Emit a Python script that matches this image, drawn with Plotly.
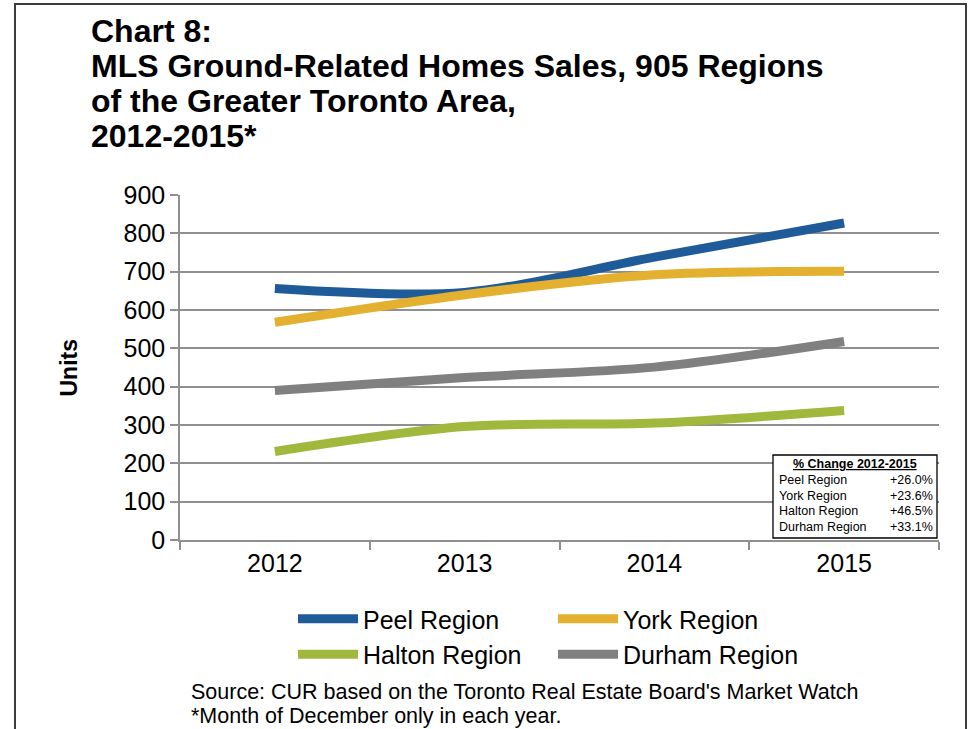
import plotly.graph_objects as go

years = ["2012", "2013", "2014", "2015"]
peel = [656, 646, 738, 827]
york = [568, 640, 692, 701]
halton = [231, 296, 305, 338]
durham = [390, 424, 451, 518]

series_names = ["Peel Region", "York Region", "Halton Region", "Durham Region"]
series_values = [peel, york, halton, durham]
series_colors = ["#1F5B98", "#E3B02F", "#A0B93C", "#808080"]

title_lines = ["Chart 8:", "MLS Ground-Related Homes Sales, 905 Regions",
               "of the Greater Toronto Area,", "2012-2015*"]
inset_title = "% Change 2012-2015"
inset_labels = ["Peel Region", "York Region", "Halton Region", "Durham Region"]
inset_values = ["+26.0%", "+23.6%", "+46.5%", "+33.1%"]
footer_lines = ["Source: CUR based on the Toronto Real Estate Board's Market Watch",
                "*Month of December only in each year."]
y_ticks = [0, 100, 200, 300, 400, 500, 600, 700, 800, 900]

W, H = 972, 729
PLOT_X0, PLOT_X1, PLOT_Y0, PLOT_Y1 = 180, 939, 195, 540
L = PLOT_X0
T = PLOT_Y0
R = W - PLOT_X1
B = H - PLOT_Y1
PW, PH = W - L - R, H - T - B


def px(x):
    return (x - PLOT_X0) / PW


def py(y):
    return (PLOT_Y1 - y) / PH


FONT = "Liberation Sans, Arial, sans-serif"

fig = go.Figure()
for name, vals, col in zip(series_names, series_values, series_colors):
    fig.add_trace(go.Scatter(
        x=years, y=vals, name=name, mode="lines",
        line=dict(color=col, width=9, shape="spline", smoothing=0.9),
        hoverinfo="x+y+name",
    ))

annotations = []
for i, t in enumerate(title_lines):
    annotations.append(dict(
        text="<b>%s</b>" % t, xref="paper", yref="paper",
        x=px(89), y=py(30.5 + 35 * i), xanchor="left", yanchor="middle",
        showarrow=False, font=dict(family=FONT, size=32, color="black")))
annotations.append(dict(
    text="<b>Units</b>", xref="paper", yref="paper", x=px(68), y=0.5,
    xanchor="center", yanchor="middle", textangle=-90, showarrow=False,
    font=dict(family=FONT, size=23, color="black")))
for i, t in enumerate(footer_lines):
    annotations.append(dict(
        text=t, xref="paper", yref="paper", x=px(189), y=py(692 + 24 * i),
        xanchor="left", yanchor="middle", showarrow=False,
        font=dict(family=FONT, size=21.5, color="black")))
annotations.append(dict(
    text="<b><u>%s</u></b>" % inset_title, xref="paper", yref="paper",
    x=px(855), y=py(464), xanchor="center", yanchor="middle", showarrow=False,
    font=dict(family=FONT, size=12.5, color="black")))
for i, (lab, val) in enumerate(zip(inset_labels, inset_values)):
    yy = py(480 + 15.6 * i)
    annotations.append(dict(
        text=lab, xref="paper", yref="paper", x=px(777), y=yy,
        xanchor="left", yanchor="middle", showarrow=False,
        font=dict(family=FONT, size=12.5, color="black")))
    annotations.append(dict(
        text=val, xref="paper", yref="paper", x=px(935), y=yy,
        xanchor="right", yanchor="middle", showarrow=False,
        font=dict(family=FONT, size=12.5, color="black")))

shapes = [
    dict(type="rect", xref="paper", yref="paper", x0=px(773), x1=px(937),
         y0=py(538), y1=py(455), line=dict(color="black", width=1.3),
         fillcolor="white", layer="above"),
    dict(type="rect", xref="paper", yref="paper", x0=px(15), x1=px(966),
         y0=py(760), y1=py(4), line=dict(color="#3c3c3c", width=2),
         fillcolor="rgba(0,0,0,0)", layer="below"),
]

fig.update_layout(
    width=W, height=H,
    margin=dict(l=L, r=R, t=T, b=B, pad=0),
    paper_bgcolor="white", plot_bgcolor="white",
    font=dict(family=FONT, color="black"),
    showlegend=True,
    legend=dict(orientation="h", x=px(293), y=py(596), xanchor="left", yanchor="top",
                font=dict(family=FONT, size=25, color="black"),
                itemwidth=60, entrywidth=185, tracegroupgap=0,
                bgcolor="rgba(0,0,0,0)"),
    annotations=annotations,
    shapes=shapes,
    xaxis=dict(type="category", range=[-0.5, 3.5], tickson="boundaries",
               ticks="outside", ticklen=8, tickcolor="#8f8f8f", tickwidth=1.5,
               showline=True, linecolor="#8f8f8f", linewidth=1.5, showgrid=False,
               tickfont=dict(family=FONT, size=25, color="black"), fixedrange=True),
    yaxis=dict(range=[0, 900], tickvals=y_ticks, ticks="outside", ticklen=8,
               tickcolor="#8f8f8f", tickwidth=1.5, showline=True,
               linecolor="#8f8f8f", linewidth=1.5, showgrid=True,
               gridcolor="#8f8f8f", gridwidth=1.5, zeroline=False,
               tickfont=dict(family=FONT, size=25, color="black"), fixedrange=True),
)

fig.write_html(
    "out.html",
    config={"displayModeBar": False},
    post_script=("document.body.style.margin='0';"
                 "document.body.style.overflow='hidden';"
                 "document.documentElement.style.overflow='hidden';"),
)
